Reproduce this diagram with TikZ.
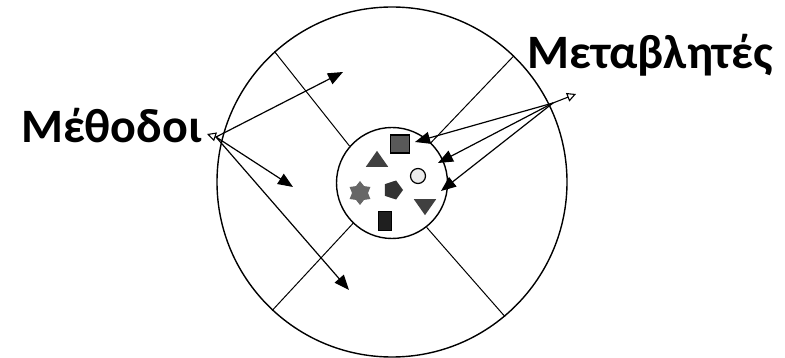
\documentclass[tikz,border=0pt]{standalone}
\usepackage{fontspec}
\setmainfont{Carlito}
\usetikzlibrary{arrows.meta,shapes.geometric}

\begin{document}
\begin{tikzpicture}[x=1pt,y=-1pt,>={Triangle[length=15pt,width=12pt]}]
  \tikzstyle{ring}=[draw,circle,line width=1.4pt,inner sep=0pt]
  \tikzstyle{wall}=[line width=1pt]
  \tikzstyle{arr}=[->,line width=1.2pt]
  \tikzstyle{openarr}=[-{Triangle[open,length=9pt,width=9pt]},line width=1.1pt]
  \tikzstyle{label}=[font=\fontsize{48}{54}\selectfont\bfseries,inner sep=0pt]
  \tikzstyle{item}=[inner sep=0pt,line width=1.2pt]
  \useasboundingbox (0,0) rectangle (785,358);
  % rings
  \node[ring,minimum size=350pt] (outer) at (392,182) {};
  \node[ring,minimum size=111pt,fill=white] (inner) at (392,183) {};
  \draw[wall] (inner.139) -- (outer.132);
  \draw[wall] (inner.46) -- (outer.46);
  \draw[wall] (inner.226) -- (outer.227);
  \draw[wall] (inner.308) -- (outer.310);
  % items in the core
  \node[item,draw,fill=black!65,minimum width=19pt,minimum height=18pt] (sq) at (400,144) {};
  \node[item,isosceles triangle,isosceles triangle apex angle=70,shape border rotate=90,fill=black!75,minimum width=20pt,minimum height=16pt] (tri) at (377,161) {};
  \node[item,circle,draw,fill=black!8,minimum size=15pt] (circ) at (418,176) {};
  \node[item,star,star points=6,star point ratio=1.5,fill=black!60,minimum size=24pt] (hex) at (360,193) {};
  \node[item,regular polygon,regular polygon sides=5,shape border rotate=-90,fill=black!80,minimum size=20pt] (pent) at (393,190) {};
  \node[item,isosceles triangle,isosceles triangle apex angle=70,shape border rotate=-90,fill=black!75,minimum width=20pt,minimum height=16pt] (itri) at (425,205) {};
  \node[item,draw,fill=black!88,minimum width=13pt,minimum height=19pt] (bar) at (385,221) {};
  % labels
  \node[label,anchor=base east] (methods) at (202,143) {Μέθοδοι};
  \node[label,anchor=base west] (vars) at (527,69) {Μεταβλητές};
  \coordinate (mo) at (216,137);
  \coordinate (motip) at (207,134);
  \coordinate (m1) at (343,72);
  \coordinate (m2) at (293,187);
  \coordinate (m3) at (349,290);
  \coordinate (mv) at (553,103);
  \coordinate (mvtip) at (576,94);
  \coordinate (v1) at (415,142);
  \coordinate (v2) at (438,163);
  \coordinate (v3) at (441,191);
  \draw[openarr] (mo) -- (motip);
  \draw[arr] (mo) -- (m1);
  \draw[arr] (mo) -- (m2);
  \draw[arr] (mo) -- (m3);
  \draw[openarr] (mv) -- (mvtip);
  \draw[arr] (mv) -- (v1);
  \draw[arr] (mv) -- (v2);
  \draw[arr] (mv) -- (v3);
\end{tikzpicture}
\end{document}
